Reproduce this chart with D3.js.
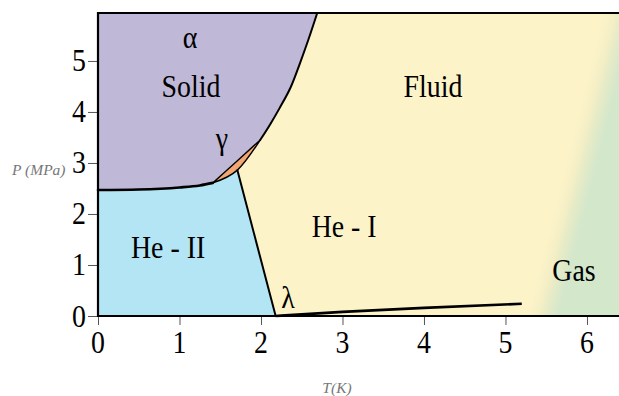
<!DOCTYPE html>
<html>
<head>
<meta charset="utf-8">
<script src="https://cdn.jsdelivr.net/npm/d3@7/dist/d3.min.js"></script>
<style>
  html, body { margin: 0; padding: 0; background: #fff; }
  svg { display: block; }
</style>
</head>
<body>
<svg id="chart" width="619" height="396"></svg>
<script>
// Helium-4 phase diagram: temperature T (K) against pressure P (MPa)

const tTicks = [0, 1, 2, 3, 4, 5, 6];
const pTicks = [0, 1, 2, 3, 4, 5];
const tMax = 6.393;
const pMax = 5.94;

// He-II / solid boundary, T = 0 up to the gamma phase
const meltLow = [[0, 2.47], [0.5, 2.48], [1.0, 2.52], [1.25, 2.56], [1.41, 2.61]];
// gamma (bcc) lens: upper edge against the alpha solid, lower edge against the liquids
const gammaUpper = [[1.41, 2.61], [1.70, 3.03], [1.99, 3.45]];
const gammaLower = [[1.41, 2.61], [1.71, 2.86], [1.99, 3.45]];
// alpha solid / fluid melting curve
const meltHigh = [[1.99, 3.45], [2.11, 3.75], [2.23, 4.08], [2.36, 4.47], [2.47, 4.92], [2.58, 5.41], [2.69, 5.94]];
// lambda line between He-II and He-I
const lambdaLine = [[2.18, 0], [1.71, 2.86]];
// liquid-vapour curve, lambda point to the critical point
const vapourLine = [[2.18, 0.0], [3.0, 0.08], [4.0, 0.16], [5.2, 0.24]];
// fluid to gas fade, iso-line where the yellow ends
const fadeStart = [[5.26, 0], [6.2, 5.94]];

const phaseNames = ["α", "Solid", "γ", "Fluid", "He - I", "He - II", "Gas", "λ"];
const phaseT     = [1.13, 1.14, 1.52, 4.11, 3.02, 0.86, 5.84, 2.33];
const phaseP     = [5.25, 4.29, 3.28, 4.29, 1.55, 1.14, 0.69, 0.16];

const svg = d3.select("#chart");
const plot = { left: 98, right: 619, top: 13, bottom: 316 };

const x = d3.scaleLinear().domain([0, tMax]).range([plot.left, plot.right]);
const y = d3.scaleLinear().domain([0, pMax]).range([plot.bottom, plot.top]);

const straight = d3.line().x(d => x(d[0])).y(d => y(d[1]));
const smooth = d3.line().x(d => x(d[0])).y(d => y(d[1])).curve(d3.curveMonotoneX);
const natural = d3.line().x(d => x(d[0])).y(d => y(d[1])).curve(d3.curveNatural);
const spline = d3.line().x(d => x(d[0])).y(d => y(d[1])).curve(d3.curveCatmullRom.alpha(0.5));
const cont = p => p.replace(/^M/, "L");

// fluid/gas gradient, oriented across the fade iso-line
const ax = x(fadeStart[0][0]), ay = y(fadeStart[0][1]);
const bx = x(fadeStart[1][0]), by = y(fadeStart[1][1]);
let nx = ay - by, ny = bx - ax;
const len = Math.hypot(nx, ny); nx /= len; ny /= len;
const band = 31;
const defs = svg.append("defs");
const grad = defs.append("linearGradient")
  .attr("id", "fluidGas")
  .attr("gradientUnits", "userSpaceOnUse")
  .attr("x1", ax).attr("y1", ay)
  .attr("x2", ax + nx * band).attr("y2", ay + ny * band);
[[0, "#fdf3c8"], [0.35, "#f5efc6"], [0.6, "#e6ebc7"], [1, "#d3e7cb"]].forEach(s =>
  grad.append("stop").attr("offset", s[0]).attr("stop-color", s[1]));

svg.append("rect")
  .attr("x", plot.left).attr("y", plot.top)
  .attr("width", plot.right - plot.left).attr("height", plot.bottom - plot.top)
  .attr("fill", "url(#fluidGas)");

// alpha solid
const topEnd = meltHigh[meltHigh.length - 1];
svg.append("path")
  .attr("d", straight([[0, pMax], [0, meltLow[0][1]]]) +
    cont(smooth(meltLow)) + cont(smooth(gammaUpper)) + cont(spline(meltHigh)) +
    cont(straight([topEnd, [0, pMax]])) + "Z")
  .attr("fill", "#bfb8d6");

// He-II
svg.append("path")
  .attr("d", straight([[0, 0]].concat(lambdaLine, [gammaLower[0]])) +
    cont(smooth(meltLow.slice().reverse())) + "Z")
  .attr("fill", "#b3e5f5");

// gamma lens
svg.append("path")
  .attr("d", smooth(gammaUpper) + cont(natural(gammaLower.slice().reverse())) + "Z")
  .attr("fill", "#f4a672")
  .attr("stroke", "#000").attr("stroke-width", 1.4).attr("stroke-linejoin", "round");

// phase boundaries
const boundary = svg.append("g").attr("fill", "none").attr("stroke", "#000")
  .attr("stroke-linecap", "round").attr("stroke-linejoin", "round");
boundary.append("path").attr("d", smooth(meltLow)).attr("stroke-width", 2.6);
boundary.append("path").attr("d", spline(meltHigh)).attr("stroke-width", 2);
boundary.append("path").attr("d", straight(lambdaLine)).attr("stroke-width", 2);
boundary.append("path").attr("d", smooth(vapourLine))
  .attr("stroke-width", 2.6).attr("stroke-linecap", "butt");

// axes
const xAxis = d3.axisBottom(x).tickValues(tTicks).tickSize(9).tickFormat("");
const yAxis = d3.axisLeft(y).tickValues(pTicks).tickSize(10).tickFormat("");
const gx = svg.append("g").attr("transform", `translate(0,${plot.bottom})`).call(xAxis);
const gy = svg.append("g").attr("transform", `translate(${plot.left},0)`).call(yAxis);
[gx, gy].forEach(g => {
  g.select(".domain").remove();
  g.selectAll(".tick line").attr("stroke", "#555").attr("stroke-width", 1);
});

// frame: left, top and bottom edges
svg.append("path")
  .attr("d", `M${plot.right},${plot.top}H${plot.left}V${plot.bottom}H${plot.right}`)
  .attr("fill", "none").attr("stroke", "#000").attr("stroke-width", 2.2);

const serif = "'Liberation Serif', 'Times New Roman', serif";
const squeeze = 0.87;

svg.append("g").selectAll("text").data(tTicks).join("text")
  .attr("transform", d => `translate(${x(d)},353) scale(${squeeze},1)`)
  .attr("text-anchor", "middle")
  .attr("font-family", serif).attr("font-size", 32).attr("fill", "#000")
  .text(d => d);

svg.append("g").selectAll("text").data(pTicks).join("text")
  .attr("transform", d => `translate(86,${y(d) + 10.5}) scale(${squeeze},1)`)
  .attr("text-anchor", "end")
  .attr("font-family", serif).attr("font-size", 32).attr("fill", "#000")
  .text(d => d);

// phase labels
svg.append("g").selectAll("text").data(phaseNames).join("text")
  .attr("transform", (d, i) => `translate(${x(phaseT[i])},${y(phaseP[i])}) scale(${squeeze},1)`)
  .attr("text-anchor", "middle")
  .attr("font-family", serif).attr("font-size", 32).attr("fill", "#000")
  .text(d => d);

// axis titles
svg.append("text")
  .attr("x", 12).attr("y", 175)
  .attr("font-family", serif).attr("font-style", "italic").attr("font-size", 15.5)
  .attr("fill", "#777").text("P (MPa)");
svg.append("text")
  .attr("x", 337).attr("y", 393).attr("text-anchor", "middle")
  .attr("font-family", serif).attr("font-style", "italic").attr("font-size", 15.5)
  .attr("fill", "#777").text("T(K)");
</script>
</body>
</html>
